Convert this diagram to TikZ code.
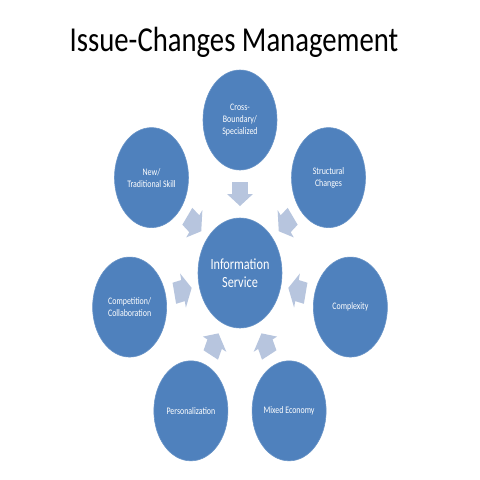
\documentclass[tikz,border=0pt]{standalone}
\usepackage{fontspec}
\setmainfont{Carlito}
\newfontfamily\labfont{Carlito}[FakeStretch=0.79]
\newfontfamily\titfont{Carlito}[FakeStretch=0.82]
\usetikzlibrary{shapes.geometric,calc}
\definecolor{circblue}{RGB}{79,129,189}
\definecolor{arrowblue}{RGB}{183,197,222}
\tikzset{
  outer/.style={ellipse, fill=circblue, draw=circblue!85!white, line width=0.6pt,
    minimum width=74pt, minimum height=100pt, inner sep=0pt, text=white, align=center,
    font=\labfont\fontsize{10}{12}\selectfont},
  hub/.style={ellipse, fill=circblue, draw=circblue!85!white, line width=0.6pt,
    minimum width=84pt, minimum height=110pt, inner sep=0pt, text=white, align=center,
    font=\labfont\fontsize{15.5}{18}\selectfont},
  blockarrow/.style={fill=arrowblue, draw=none}
}
\newcommand{\blkarrow}[2]{% #1 named coordinate, #2 undistorted angle
  \fill[blockarrow, shift={(#1)}, xscale=0.74, rotate=#2]
    (-12,-10.8) -- (0,-10.8) -- (0,-17.5) -- (12,0) -- (0,17.5) -- (0,10.8) -- (-12,10.8) -- cycle;}
\begin{document}
\begin{tikzpicture}[x=1pt,y=1pt]
\useasboundingbox[fill=white] (0,0) rectangle (480,-480);
\node[anchor=base, font=\titfont\fontsize{35}{40}\selectfont] (title) at (234,-51) {Issue-Changes Management};
\coordinate (c) at (240,-273);
\node[hub] (info) at (c) {Information\\Service};
% outer nodes at angle 90 + k*51.43 on a distorted circle
\node[outer] (cross) at ($(c)+({0.74*153*cos(90)},{153*sin(90)})$) {Cross-\\Boundary/\\Specialized};
\node[outer] (newtrad) at ($(c)+({0.74*153*cos(141.43)},{153*sin(141.43)})$) {New/\\Traditional Skill};
\node[outer] (comp) at ($(c)+({0.74*153*cos(192.86)},{153*sin(192.86)})$) {Competition/\\Collaboration};
\node[outer] (pers) at ($(c)+({0.74*153*cos(244.29)},{153*sin(244.29)})$) {Personalization};
\node[outer] (mixed) at ($(c)+({0.74*153*cos(295.71)},{153*sin(295.71)})$) {Mixed Economy};
\node[outer] (cplx) at ($(c)+({0.74*153*cos(347.14)},{153*sin(347.14)})$) {Complexity};
\node[outer] (struct) at ($(c)+({0.74*153*cos(38.57)},{153*sin(38.57)})$) {Structural\\Changes};
% arrow positions
\foreach \nm/\ang in {a1/90, a2/141.43, a3/192.86, a4/244.29, a5/295.71, a6/347.14, a7/38.57}{
  \coordinate (\nm) at ($(c)+({0.74*79*cos(\ang)},{79*sin(\ang)})$);
  \blkarrow{\nm}{\ang+180}
}
\end{tikzpicture}
\end{document}
